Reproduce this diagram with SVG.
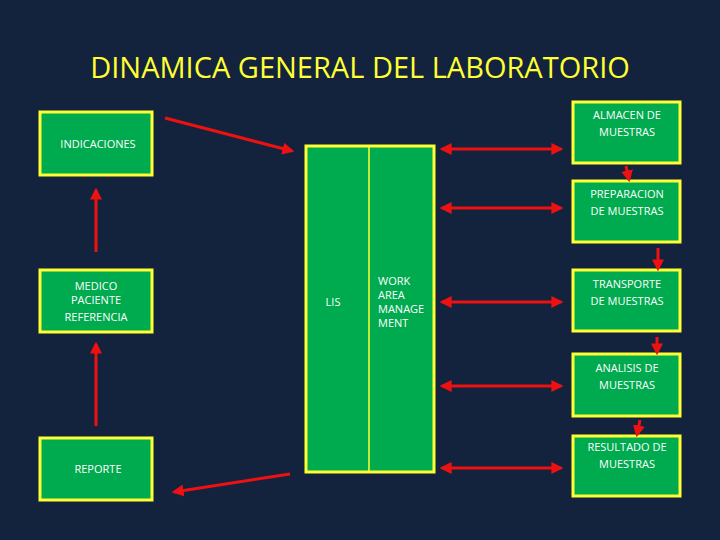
<svg xmlns="http://www.w3.org/2000/svg" width="720" height="540" viewBox="0 0 720 540">
<defs>
<style>
.b{fill:#00AA4E;stroke:#FFFF33;stroke-width:3}
.t{font-family:"Open Sans","DejaVu Sans",sans-serif;font-size:11px;fill:#fff;text-anchor:middle}
.c line{stroke:#EE1111;stroke-width:3}
</style>
<marker id="a" viewBox="0 0 10 10" refX="8" refY="5" markerWidth="4" markerHeight="4" orient="auto-start-reverse"><path d="M0,0L10,5L0,10z" fill="#EE1111"/></marker>
</defs>
<rect width="720" height="540" fill="#13233D"/>
<text x="360" y="78" font-family="'Open Sans','DejaVu Sans',sans-serif" font-size="29" fill="#FFFF33" text-anchor="middle">DINAMICA GENERAL DEL LABORATORIO</text>
<g id="indicaciones"><rect class="b" x="40" y="112" width="112" height="63"/><text class="t" x="98" y="148">INDICACIONES</text></g>
<g id="medico"><rect class="b" x="40" y="270" width="112" height="62"/><text class="t" x="96" y="290">MEDICO</text><text class="t" x="96" y="304">PACIENTE</text><text class="t" x="96" y="321">REFERENCIA</text></g>
<g id="reporte"><rect class="b" x="40" y="438" width="112" height="62"/><text class="t" x="98" y="473">REPORTE</text></g>
<g id="central"><rect class="b" x="306" y="146" width="128" height="326"/><line x1="369" y1="147" x2="369" y2="471" stroke="#FFFF33" stroke-width="1.5"/>
<text class="t" x="333" y="306" font-size="14">LIS</text>
<text class="t" x="378" y="285" text-anchor="start" style="text-anchor:start">WORK</text><text class="t" x="378" y="299" style="text-anchor:start">AREA</text><text class="t" x="378" y="313" style="text-anchor:start">MANAGE</text><text class="t" x="378" y="327" style="text-anchor:start">MENT</text></g>
<g id="almacen"><rect class="b" x="573" y="102" width="107" height="61"/><text class="t" x="627" y="119">ALMACEN DE</text><text class="t" x="627" y="136">MUESTRAS</text></g>
<g id="preparacion"><rect class="b" x="573" y="181" width="107" height="61"/><text class="t" x="627" y="198">PREPARACION</text><text class="t" x="627" y="215">DE MUESTRAS</text></g>
<g id="transporte"><rect class="b" x="573" y="270" width="107" height="61"/><text class="t" x="627" y="288">TRANSPORTE</text><text class="t" x="627" y="305">DE MUESTRAS</text></g>
<g id="analisis"><rect class="b" x="573" y="354" width="107" height="62"/><text class="t" x="627" y="372">ANALISIS DE</text><text class="t" x="627" y="389">MUESTRAS</text></g>
<g id="resultado"><rect class="b" x="573" y="436" width="107" height="60"/><text class="t" x="627" y="451">RESULTADO DE</text><text class="t" x="627" y="468">MUESTRAS</text></g>
<g class="c">
<line x1="165" y1="118" x2="292" y2="151" marker-end="url(#a)"/>
<line x1="290" y1="474" x2="174" y2="492" marker-end="url(#a)"/>
<line x1="96" y1="252" x2="96" y2="190" marker-end="url(#a)"/>
<line x1="96" y1="426" x2="96" y2="344" marker-end="url(#a)"/>
<line x1="442" y1="149" x2="561" y2="149" marker-start="url(#a)" marker-end="url(#a)"/>
<line x1="442" y1="208" x2="561" y2="208" marker-start="url(#a)" marker-end="url(#a)"/>
<line x1="442" y1="302" x2="561" y2="302" marker-start="url(#a)" marker-end="url(#a)"/>
<line x1="442" y1="386" x2="561" y2="386" marker-start="url(#a)" marker-end="url(#a)"/>
<line x1="442" y1="468" x2="561" y2="468" marker-start="url(#a)" marker-end="url(#a)"/>
<line x1="626" y1="166" x2="629" y2="180" marker-end="url(#a)"/>
<line x1="658" y1="248" x2="658" y2="269" marker-end="url(#a)"/>
<line x1="657" y1="337" x2="657" y2="353" marker-end="url(#a)"/>
<line x1="640" y1="420" x2="637" y2="435" marker-end="url(#a)"/>
</g>
</svg>
